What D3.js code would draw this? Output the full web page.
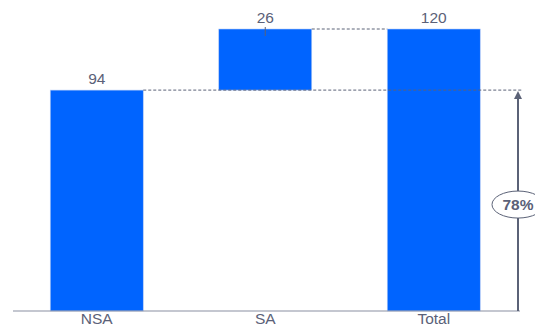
<!DOCTYPE html>
<html>
<head>
<meta charset="utf-8">
<script src="https://cdn.jsdelivr.net/npm/d3@7"></script>
<style>
body { margin: 0; background: #fff; }
text { font-family: "Liberation Sans", Arial, sans-serif; fill: #5b6178; }
</style>
</head>
<body>
<script>
// waterfall: NSA + SA = Total
var categories = ["NSA", "SA", "Total"];
var starts = [0, 94, 0];
var values = [94, 26, 120];
var shareLabel = "78%";

(function(){
    var width = 535, height = 335;
    var svg = d3.select("body").append("svg")
        .attr("width", width)
        .attr("height", height);

    var x = d3.scaleBand()
        .domain(categories)
        .range([12.5, 518])
        .paddingInner(0.448)
        .paddingOuter(0.224);

    var y = d3.scaleLinear()
        .domain([0, 120])
        .range([311, 29]);

    var grey = "#5b6277";
    var ends = values.map(function(v, i){ return starts[i] + v; });

    // bars
    svg.selectAll(".bar")
        .data(categories)
        .enter()
        .append("rect")
        .attr("class", "bar")
        .attr("x", function(d){ return x(d); })
        .attr("width", x.bandwidth())
        .attr("y", function(d, i){ return y(ends[i]); })
        .attr("height", function(d, i){ return y(starts[i]) - y(ends[i]); })
        .style("fill", "#0064ff")
        .style("stroke", "#b9cdf5")
        .style("stroke-width", 0.6);

    // dashed connectors
    svg.append("line")
        .attr("x1", x("NSA") + x.bandwidth()).attr("x2", 522)
        .attr("y1", y(ends[0])).attr("y2", y(ends[0]))
        .style("stroke", grey).style("stroke-width", 1)
        .style("stroke-dasharray", "3,2");
    svg.append("line")
        .attr("x1", x("SA") + x.bandwidth()).attr("x2", x("Total"))
        .attr("y1", y(ends[1])).attr("y2", y(ends[1]))
        .style("stroke", grey).style("stroke-width", 1)
        .style("stroke-dasharray", "3,2");

    // small tick under the SA label
    svg.append("line")
        .attr("x1", x("SA") + x.bandwidth() / 2).attr("x2", x("SA") + x.bandwidth() / 2)
        .attr("y1", y(ends[1]) - 2).attr("y2", y(ends[1]) + 7)
        .style("stroke", grey).style("stroke-width", 1);

    // value labels
    svg.selectAll(".valueLabel")
        .data(categories)
        .enter()
        .append("text")
        .attr("class", "valueLabel")
        .attr("text-anchor", "middle")
        .attr("x", function(d){ return x(d) + x.bandwidth() / 2; })
        .attr("y", function(d, i){ return y(ends[i]) - 6.5; })
        .style("font-size", "15.5px")
        .text(function(d, i){ return values[i]; });

    // baseline
    svg.append("line")
        .attr("x1", 13).attr("x2", 520)
        .attr("y1", y(0)).attr("y2", y(0))
        .style("stroke", "#8a90a2").style("stroke-width", 1.2);

    // category labels
    svg.selectAll(".catLabel")
        .data(categories)
        .enter()
        .append("text")
        .attr("class", "catLabel")
        .attr("text-anchor", "middle")
        .attr("x", function(d){ return x(d) + x.bandwidth() / 2; })
        .attr("y", y(0) + 12.5)
        .style("font-size", "15.5px")
        .text(function(d){ return d; });

    // share arrow
    var ax = 518;
    svg.append("line")
        .attr("x1", ax).attr("x2", ax)
        .attr("y1", y(0)).attr("y2", y(ends[0]) + 6)
        .style("stroke", grey).style("stroke-width", 2);
    svg.append("path")
        .attr("d", "M" + (ax - 4) + "," + (y(ends[0]) + 9) + " L" + ax + "," + (y(ends[0]) + 1) + " L" + (ax + 4) + "," + (y(ends[0]) + 9) + " Z")
        .style("fill", grey);

    var my = (y(0) + y(ends[0])) / 2 + 4;
    svg.append("ellipse")
        .attr("cx", ax).attr("cy", my)
        .attr("rx", 26).attr("ry", 13.5)
        .style("fill", "#fff").style("stroke", grey).style("stroke-width", 1);
    svg.append("text")
        .attr("x", ax).attr("y", my + 5.5)
        .attr("text-anchor", "middle")
        .style("font-size", "15.5px")
        .style("font-weight", "bold")
        .text(shareLabel);
})();
</script>
</body>
</html>
